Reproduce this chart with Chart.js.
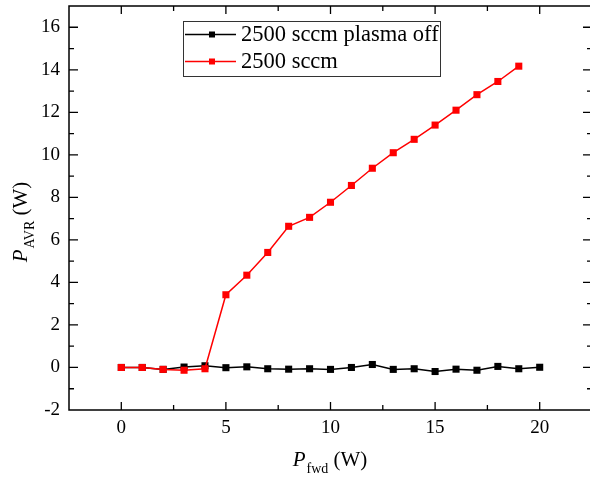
<!DOCTYPE html>
<html>
<head>
<meta charset="utf-8">
<script src="https://cdn.jsdelivr.net/npm/chart.js@4"></script>
<style>
  html, body { margin: 0; padding: 0; background: #fff; overflow: hidden; }
  #wrap { width: 592px; height: 477px; position: relative; }
</style>
</head>
<body>
<div id="wrap"><canvas id="powerChart"></canvas></div>
<script>
// P_fwd (W) values
const fwdOff = [0, 1, 2, 3, 4, 5, 6, 7, 8, 9, 10, 11, 12, 13, 14, 15, 16, 17, 18, 19, 20];
const fwdOn = [0, 1, 2, 3, 4, 5, 6, 7, 8, 9, 10, 11, 12, 13, 14, 15, 16, 17, 18, 19];
// P_AVR (W) values
const avrOff = [0, 0, -0.09, 0.02, 0.08, -0.01, 0.03, -0.06, -0.08, -0.06, -0.09, 0, 0.14, -0.09, -0.06, -0.19, -0.08, -0.13, 0.05, -0.06, 0.01];
const avrOn = [0, 0, -0.09, -0.13, -0.06, 3.42, 4.34, 5.41, 6.64, 7.06, 7.77, 8.56, 9.37, 10.1, 10.73, 11.4, 12.1, 12.83, 13.45, 14.17];
const seriesLabels = ['2500 sccm plasma off', '2500 sccm'];

const xTicks = [0, 5, 10, 15, 20];
const xMinor = [-2.5, 2.5, 7.5, 12.5, 17.5, 22.5];
const yTicks = [-2, 0, 2, 4, 6, 8, 10, 12, 14, 16];
const yMinor = [-1, 1, 3, 5, 7, 9, 11, 13, 15, 17];

const serif = '"Liberation Serif", "Times New Roman", serif';

function toPoints(xs, ys) {
  return xs.map((x, i) => ({ x: x, y: ys[i] }));
}

// frame, inward ticks on all four sides, legend box and axis titles
const decorPlugin = {
  id: 'decor',
  afterDraw(chart) {
    const ctx = chart.ctx;
    const a = chart.chartArea;
    const xs = chart.scales.x;
    const ys = chart.scales.y;
    ctx.save();
    ctx.strokeStyle = '#000';
    ctx.lineWidth = 1.5;
    ctx.strokeRect(a.left, a.top, a.right - a.left, a.bottom - a.top);

    ctx.lineWidth = 1.3;
    ctx.beginPath();
    const tickX = (vals, len) => vals.forEach(v => {
      const px = xs.getPixelForValue(v);
      if (px < a.left + 1 || px > a.right - 1) return;
      ctx.moveTo(px, a.bottom); ctx.lineTo(px, a.bottom - len);
      ctx.moveTo(px, a.top); ctx.lineTo(px, a.top + len);
    });
    const tickY = (vals, len) => vals.forEach(v => {
      const py = ys.getPixelForValue(v);
      if (py < a.top + 1 || py > a.bottom - 1) return;
      ctx.moveTo(a.left, py); ctx.lineTo(a.left + len, py);
      ctx.moveTo(a.right, py); ctx.lineTo(a.right - len, py);
    });
    tickX(xTicks, 8);
    tickX(xMinor, 5);
    tickY(yTicks, 9);
    tickY(yMinor, 5);
    ctx.stroke();

    // legend
    const lx = 183, ly = 21, lw = 257, lh = 55;
    ctx.lineWidth = 1;
    ctx.fillStyle = '#fff';
    ctx.fillRect(lx, ly, lw, lh);
    ctx.strokeStyle = '#333';
    ctx.strokeRect(lx + 0.5, ly + 0.5, lw, lh);
    chart.data.datasets.slice().sort((p, q) => p.legendIndex - q.legendIndex).forEach((ds, i) => {
      const yy = ly + 13.5 + i * 27;
      ctx.strokeStyle = ds.borderColor;
      ctx.lineWidth = 1.5;
      ctx.beginPath();
      ctx.moveTo(lx + 2, yy);
      ctx.lineTo(lx + 53, yy);
      ctx.stroke();
      ctx.fillStyle = ds.backgroundColor;
      ctx.fillRect(lx + 29 - 3, yy - 3, 6, 6);
      ctx.fillStyle = '#000';
      ctx.font = '22.5px ' + serif;
      ctx.textBaseline = 'middle';
      ctx.textAlign = 'left';
      ctx.fillText(ds.label, lx + 58, yy + 1);
    });

    // axis titles with italic P and subscript
    const drawTitle = (sub) => {
      ctx.fillStyle = '#000';
      ctx.textBaseline = 'alphabetic';
      ctx.textAlign = 'left';
      const fMain = 'italic 21px ' + serif;
      const fSub = '14px ' + serif;
      const fUnit = '21px ' + serif;
      ctx.font = fMain; const w1 = ctx.measureText('P').width;
      ctx.font = fSub; const w2 = ctx.measureText(sub).width;
      ctx.font = fUnit; const w3 = ctx.measureText(' (W)').width;
      const total = w1 + 1 + w2 + w3;
      let x = -total / 2;
      ctx.font = fMain; ctx.fillText('P', x, 0); x += w1 + 1;
      ctx.font = fSub; ctx.fillText(sub, x, 7); x += w2;
      ctx.font = fUnit; ctx.fillText(' (W)', x, 0);
    };
    ctx.save();
    ctx.translate(330, 466);
    drawTitle('fwd');
    ctx.restore();
    ctx.save();
    ctx.translate(27, 222);
    ctx.rotate(-Math.PI / 2);
    drawTitle('AVR');
    ctx.restore();

    ctx.restore();
  }
};

const chart = new Chart(document.getElementById('powerChart'), {
  type: 'line',
  data: {
    datasets: [{
      label: seriesLabels[0],
      legendIndex: 0,
      data: toPoints(fwdOff, avrOff),
      borderColor: '#000000',
      backgroundColor: '#000000',
      borderWidth: 1.5,
      pointStyle: 'rect',
      pointRadius: 5,
      pointBorderWidth: 0,
      order: 1
    }, {
      label: seriesLabels[1],
      legendIndex: 1,
      data: toPoints(fwdOn, avrOn),
      borderColor: '#ff0000',
      backgroundColor: '#ff0000',
      borderWidth: 1.5,
      pointStyle: 'rect',
      pointRadius: 5,
      pointBorderWidth: 0,
      order: 0
    }]
  },
  options: {
    responsive: true,
    maintainAspectRatio: false,
    animation: false,
    layout: { autoPadding: false, padding: { top: 6, right: 0, left: 0, bottom: 0 } },
    plugins: {
      legend: { display: false },
      tooltip: { enabled: false }
    },
    scales: {
      x: {
        type: 'linear',
        min: -2.5,
        max: 22.5,
        afterBuildTicks: s => { s.ticks = xTicks.map(v => ({ value: v })); },
        afterFit: s => { s.height = 67; s.paddingLeft = 0; s.paddingRight = 0; },
        grid: { display: false, drawTicks: false },
        border: { display: false },
        ticks: { color: '#000', font: { family: serif, size: 19 }, padding: 7, maxRotation: 0 }
      },
      y: {
        type: 'linear',
        min: -2,
        max: 17,
        afterBuildTicks: s => { s.ticks = yTicks.map(v => ({ value: v })); },
        afterFit: s => { s.width = 69; s.paddingTop = 0; s.paddingBottom = 0; },
        grid: { display: false, drawTicks: false },
        border: { display: false },
        ticks: { color: '#000', font: { family: serif, size: 19 }, padding: 9 }
      }
    }
  },
  plugins: [decorPlugin]
});
</script>
</body>
</html>
